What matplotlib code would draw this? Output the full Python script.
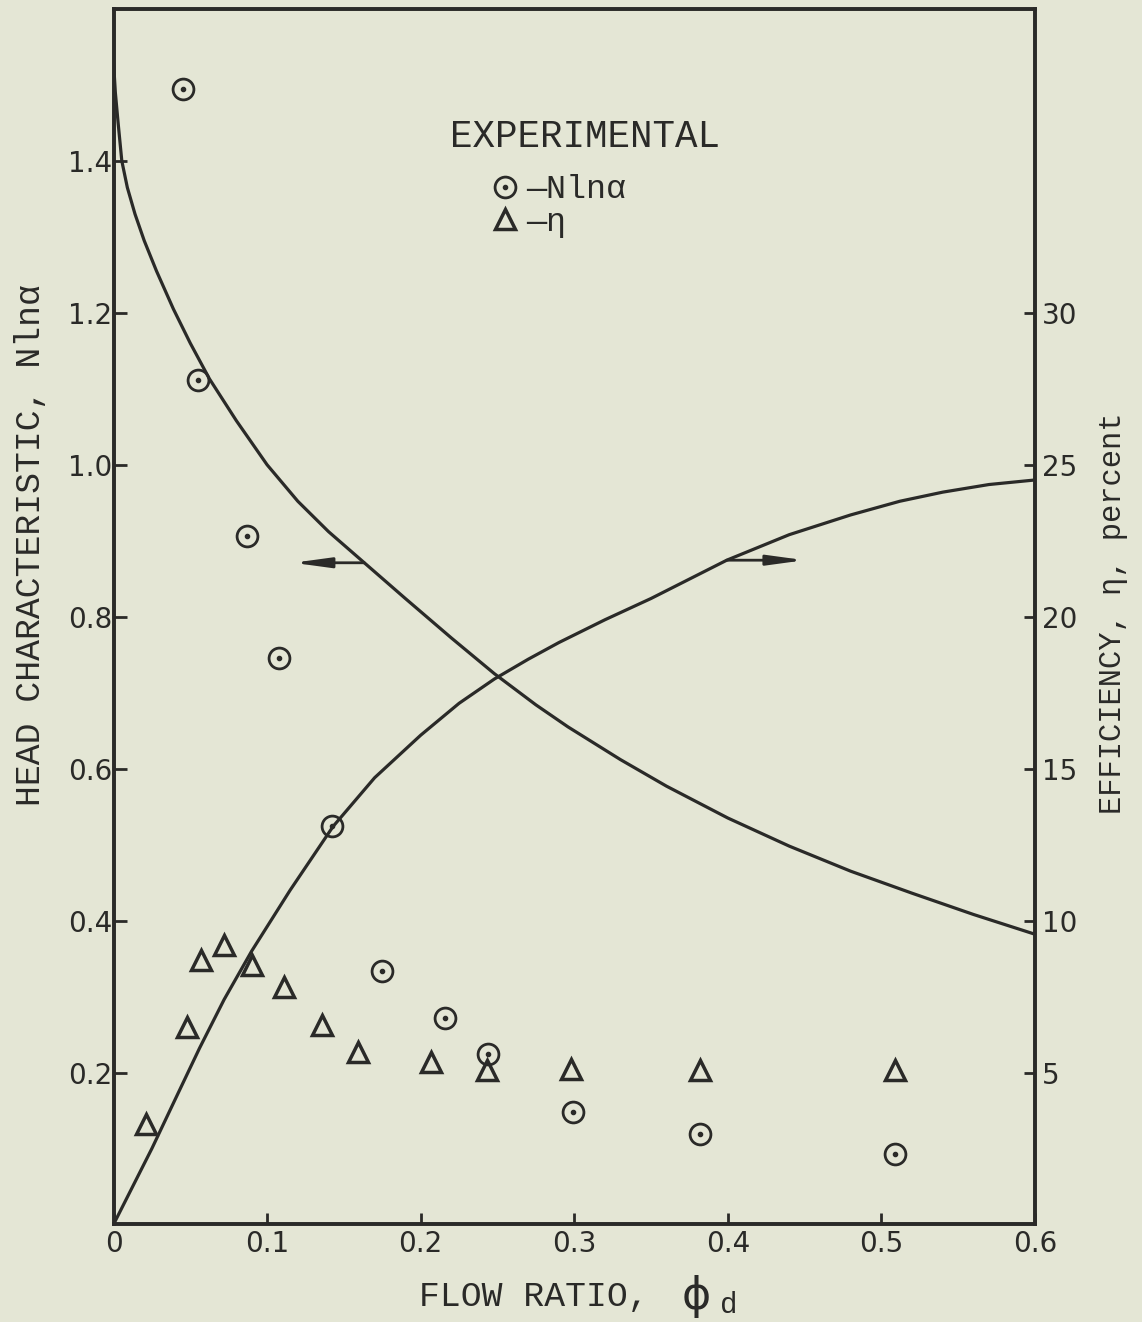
import matplotlib
matplotlib.use("Agg")
import numpy as np
import matplotlib.pyplot as plt
from matplotlib.lines import Line2D
from matplotlib.legend_handler import HandlerTuple

# experimental points, head characteristic N ln(alpha)
head_x = [0.045, 0.055, 0.087, 0.108, 0.142, 0.175, 0.216, 0.244, 0.299, 0.382, 0.509]
head_y = [1.495, 1.112, 0.906, 0.746, 0.524, 0.334, 0.272, 0.225, 0.148, 0.119, 0.093]

# experimental points, efficiency (percent)
eff_x = [0.021, 0.048, 0.057, 0.072, 0.090, 0.111, 0.136, 0.159, 0.207, 0.243, 0.298, 0.382, 0.509]
eff_y = [3.3, 6.5, 8.7, 9.2, 8.55, 7.8, 6.57, 5.68, 5.36, 5.08, 5.12, 5.07, 5.07]

# faired curves
head_curve_x = [0.000, 0.0012, 0.003, 0.0054, 0.009, 0.014, 0.020, 0.028, 0.039, 0.050,
                0.0625, 0.080, 0.100, 0.120, 0.140, 0.1633, 0.190, 0.220, 0.248, 0.275,
                0.2959, 0.330, 0.360, 0.400, 0.440, 0.480, 0.520, 0.560, 0.600]
head_curve_y = [1.53, 1.49, 1.45, 1.40, 1.365, 1.33, 1.295, 1.255, 1.205, 1.16,
                1.113, 1.058, 1.000, 0.952, 0.912, 0.871, 0.824, 0.772, 0.725, 0.684,
                0.655, 0.612, 0.577, 0.535, 0.498, 0.465, 0.436, 0.408, 0.382]

eff_curve_x = [0.000, 0.010, 0.025, 0.040, 0.056, 0.072, 0.090, 0.115, 0.143, 0.170,
               0.200, 0.225, 0.248, 0.270, 0.290, 0.320, 0.350, 0.3993, 0.440, 0.480,
               0.512, 0.540, 0.570, 0.600]
eff_curve_y = [0.0, 1.0, 2.5, 4.1, 5.8, 7.4, 9.0, 11.0, 13.1, 14.7,
               16.1, 17.15, 17.95, 18.6, 19.15, 19.9, 20.6, 21.86, 22.7, 23.35,
               23.8, 24.1, 24.35, 24.5]

x_ticks = [0, 0.1, 0.2, 0.3, 0.4, 0.5, 0.6]
x_ticklabels = ["0", "0.1", "0.2", "0.3", "0.4", "0.5", "0.6"]
left_ticks = [0.2, 0.4, 0.6, 0.8, 1.0, 1.2, 1.4]
left_ticklabels = ["0.2", "0.4", "0.6", "0.8", "1.0", "1.2", "1.4"]
right_ticks = [5, 10, 15, 20, 25, 30]
right_ticklabels = ["5", "10", "15", "20", "25", "30"]

# arrows pointing from each curve to its axis
head_arrow = ((0.1633, 0.871), (0.117, 0.871))
eff_arrow = ((0.3993, 21.86), (0.450, 21.86))

paper = "#e4e6d5"
ink = "#2a2a28"
mono = "Liberation Mono"

fig = plt.figure(figsize=(11.42, 13.22), dpi=100, facecolor=paper)
ax = fig.add_axes([0.0994, 0.0738, 0.8069, 0.9194])
ax.set_facecolor(paper)
ax2 = ax.twinx()

ax.set_xlim(0, 0.6)
ax.set_ylim(0, 1.6)
ax2.set_ylim(0, 40)

ax.plot(head_curve_x, head_curve_y, color=ink, lw=2.3, solid_joinstyle="round")
ax2.plot(eff_curve_x, eff_curve_y, color=ink, lw=2.3, solid_joinstyle="round")

circ = ax.plot(head_x, head_y, "o", ms=15, mfc="none", mec=ink, mew=2.0, ls="none")[0]
dot = ax.plot(head_x, head_y, "o", ms=3, mfc=ink, mec=ink, ls="none")[0]
tri = ax2.plot(eff_x, eff_y, "^", ms=15, mfc="none", mec=ink, mew=2.5, ls="none")[0]

ax.annotate("", xy=head_arrow[1], xytext=head_arrow[0],
            arrowprops=dict(arrowstyle="-|>,head_length=1.1,head_width=0.15",
                            color=ink, lw=2.0, shrinkA=0, shrinkB=0, mutation_scale=20))
ax2.annotate("", xy=eff_arrow[1], xytext=eff_arrow[0],
             arrowprops=dict(arrowstyle="-|>,head_length=1.1,head_width=0.15",
                             color=ink, lw=2.0, shrinkA=0, shrinkB=0, mutation_scale=20))

# ticks
ax.set_xticks(x_ticks)
ax.set_xticklabels(x_ticklabels)
ax.set_yticks(left_ticks)
ax.set_yticklabels(left_ticklabels)
ax2.set_yticks(right_ticks)
ax2.set_yticklabels(right_ticklabels)
ax.tick_params(axis="x", direction="in", length=8, width=2, labelsize=20, pad=4, colors=ink)
ax.tick_params(axis="y", direction="in", length=9, width=2, labelsize=20, pad=1, colors=ink)
ax2.tick_params(axis="y", direction="in", length=8, width=2, labelsize=20, pad=5, colors=ink)

for a in (ax, ax2):
    for sp in a.spines.values():
        sp.set_linewidth(2.6)
        sp.set_color(ink)

# legend block
ax.text(0.307, 1.432, "EXPERIMENTAL", family=mono, fontsize=27, color=ink,
        ha="center", va="center")
tri_key = Line2D([], [], marker="^", ms=15, mfc="none", mec=ink, mew=2.5, ls="none")
leg = ax.legend([(circ, dot), tri_key], ["—Nlnα", "—η"], loc="upper left",
                bbox_to_anchor=(0.410, 0.864), frameon=False, borderpad=0,
                borderaxespad=0, handlelength=0.8, handletextpad=0.25,
                labelspacing=0.05, prop=dict(family=mono, size=24),
                handler_map={tuple: HandlerTuple(ndivide=1, pad=0)})
for t in leg.get_texts():
    t.set_color(ink)

# axis titles
fig.text(0.0263, 0.5877, "HEAD CHARACTERISTIC, Nlnα", family=mono, fontsize=25,
         color=ink, rotation=90, ha="center", va="center")
fig.text(0.9746, 0.5363, "EFFICIENCY, η, percent", family=mono, fontsize=22,
         color=ink, rotation=90, ha="center", va="center")
fig.text(0.367, 0.019, "FLOW RATIO,", family=mono, fontsize=25, color=ink,
         ha="left", va="center")
fig.text(0.6095, 0.0195, "ϕ", fontsize=32, color=ink, ha="center", va="center")
fig.text(0.638, 0.0125, "d", family=mono, fontsize=21, color=ink, ha="center", va="center")

fig.savefig("out.png", dpi=100, facecolor=paper)
